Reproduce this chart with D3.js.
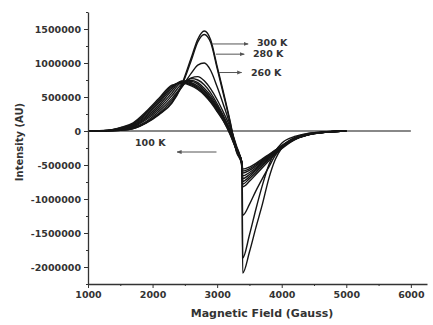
<!DOCTYPE html>
<html>
<head>
<meta charset="utf-8">
<script src="https://cdnjs.cloudflare.com/ajax/libs/d3/7.8.5/d3.min.js"></script>
<style>
  body { margin: 0; background: #fff; }
  text { font-family: "DejaVu Sans", sans-serif; font-weight: bold; fill: #333; }
</style>
</head>
<body>
<div id="chart"></div>
<script>
// magnetic field (Gauss) sample points shared by every spectrum
var fields = [1000, 1300, 1500, 1700, 1900, 2100, 2300, 2450, 2600, 2700, 2800, 2900, 3000, 3100,
  3200, 3300, 3385, 3395, 3500, 3600, 3700, 3800, 3900, 4000, 4200, 4400, 4700, 5000];

// intensity in thousands of AU
var temps = ["300 K", "280 K", "260 K", "240 K", "220 K", "200 K", "180 K", "160 K", "140 K", "120 K", "100 K"];
var i300 = [0, 2, 10, 35, 120, 250, 420, 680, 1080, 1350, 1470, 1340, 950, 560, 150, -300, -480, -2090, -1780, -1420, -1080, -700, -420, -250, -110, -50, -15, 0];
var i280 = [0, 2, 10, 35, 115, 240, 410, 660, 1040, 1310, 1420, 1300, 920, 530, 130, -310, -500, -1870, -1530, -1150, -800, -500, -300, -180, -80, -35, -10, 0];
var i260 = [0, 3, 12, 40, 125, 260, 450, 640, 850, 970, 1000, 890, 650, 380, 90, -250, -540, -1240, -1080, -880, -700, -530, -360, -230, -95, -40, -10, 0];
var i240 = [0, 3, 15, 50, 140, 290, 480, 650, 780, 800, 740, 620, 460, 270, 60, -220, -500, -820, -740, -640, -540, -440, -340, -260, -130, -60, -15, 0];
var i220 = [0, 4, 20, 60, 165, 320, 520, 690, 770, 750, 680, 560, 400, 220, 20, -240, -490, -780, -700, -610, -510, -420, -330, -250, -125, -55, -15, 0];
var i200 = [0, 5, 25, 70, 185, 350, 560, 720, 745, 710, 630, 520, 370, 200, 0, -250, -480, -740, -670, -580, -490, -400, -320, -240, -120, -55, -15, 0];
var i180 = [0, 6, 30, 80, 205, 380, 600, 735, 730, 690, 600, 490, 350, 180, -10, -260, -480, -700, -640, -560, -470, -390, -310, -235, -120, -55, -15, 0];
var i160 = [0, 7, 35, 90, 225, 410, 630, 730, 710, 660, 580, 470, 330, 170, -20, -270, -470, -660, -610, -540, -455, -375, -300, -230, -120, -55, -15, 0];
var i140 = [0, 8, 40, 100, 245, 435, 650, 720, 695, 640, 560, 450, 315, 160, -30, -275, -465, -620, -580, -515, -440, -365, -290, -225, -115, -55, -15, 0];
var i120 = [0, 9, 45, 110, 265, 460, 665, 710, 680, 625, 545, 435, 300, 150, -40, -280, -460, -590, -555, -495, -425, -355, -285, -220, -115, -55, -15, 0];
var i100 = [0, 10, 50, 120, 285, 480, 675, 700, 665, 610, 530, 420, 285, 140, -50, -285, -455, -560, -530, -475, -410, -345, -280, -215, -110, -55, -15, 0];

var xTicks = [1000, 2000, 3000, 4000, 5000, 6000];
var xMinor = [1500, 2500, 3500, 4500, 5500];
var yTicks = [1500, 1000, 500, 0, -500, -1000, -1500, -2000];
var yTickLabels = ["1500000", "1000000", "500000", "0", "-500000", "-1000000", "-1500000", "-2000000"];
var yMinor = [1750, 1250, 750, 250, -250, -750, -1250, -1750, -2250];

var series = [i300, i280, i260, i240, i220, i200, i180, i160, i140, i120, i100].map(function(vals, k) {
  return { temp: temps[k], points: vals.map(function(v, j) { return [fields[j], v]; }) };
});

var width = 433, height = 325;

var x = d3.scaleLinear().domain([1000, 6250]).range([88, 427]);
var y = d3.scaleLinear().domain([-2250, 1750]).range([284, 12]);

var svg = d3.select("#chart").append("svg")
  .attr("width", width)
  .attr("height", height);

var defs = svg.append("defs");
defs.append("marker")
  .attr("id", "arrow")
  .attr("viewBox", "0 0 10 10")
  .attr("refX", 9).attr("refY", 5)
  .attr("markerWidth", 5).attr("markerHeight", 5)
  .attr("orient", "auto")
  .append("path")
  .attr("d", "M0,1L10,5L0,9Z")
  .style("fill", "#555");

// zero baseline
svg.append("line")
  .attr("x1", x(1000)).attr("x2", x(6000))
  .attr("y1", y(0)).attr("y2", y(0))
  .style("stroke", "#888")
  .style("stroke-width", 2);

var line = d3.line()
  .x(function(d) { return x(d[0]); })
  .y(function(d) { return y(d[1]); })
  .curve(d3.curveMonotoneX);

svg.selectAll(".spectrum")
  .data(series)
  .join("path")
  .attr("class", "spectrum")
  .attr("d", function(d) { return line(d.points); })
  .style("fill", "none")
  .style("stroke", "#151515")
  .style("stroke-width", 1.4);

// axes
var xAxis = svg.append("g")
  .attr("transform", "translate(0," + y.range()[0] + ")")
  .call(d3.axisBottom(x).tickValues(xTicks).tickFormat(d3.format("d")).tickSize(4).tickSizeOuter(0));
svg.append("g")
  .attr("transform", "translate(0," + y.range()[0] + ")")
  .call(d3.axisBottom(x).tickValues(xMinor).tickFormat("").tickSize(2).tickSizeOuter(0))
  .select(".domain").remove();

var yAxis = svg.append("g")
  .attr("transform", "translate(" + x.range()[0] + ",0)")
  .call(d3.axisLeft(y).tickValues(yTicks).tickFormat(function(d, i) { return yTickLabels[i]; }).tickSize(4).tickSizeOuter(0));
svg.append("g")
  .attr("transform", "translate(" + x.range()[0] + ",0)")
  .call(d3.axisLeft(y).tickValues(yMinor).tickFormat("").tickSize(2).tickSizeOuter(0))
  .select(".domain").remove();

svg.selectAll(".domain").style("stroke", "#333").style("stroke-width", 1.3);
svg.selectAll(".tick line").style("stroke", "#333").style("stroke-width", 1);
svg.selectAll(".tick text")
  .style("font-family", "DejaVu Sans, sans-serif")
  .style("font-weight", "bold")
  .style("font-size", "9.5px")
  .style("fill", "#333");

svg.append("text")
  .attr("x", 262)
  .attr("y", 317)
  .attr("text-anchor", "middle")
  .style("font-size", "11px")
  .text("Magnetic Field (Gauss)");

svg.append("text")
  .attr("transform", "translate(23,142) rotate(-90)")
  .attr("text-anchor", "middle")
  .style("font-size", "10px")
  .text("Intensity (AU)");

// temperature annotations: [label, arrow start field, arrow end field, arrow intensity, text field, text intensity]
var notes = [
  ["300 K", 2920, 3480, 1280, 3616, 1294],
  ["280 K", 2980, 3420, 1130, 3554, 1132],
  ["260 K", 3030, 3380, 860, 3523, 853],
  ["100 K", 2990, 2380, -309, 1728, -176]
];

svg.selectAll(".note-arrow")
  .data(notes)
  .join("line")
  .attr("class", "note-arrow")
  .attr("x1", function(d) { return x(d[1]); })
  .attr("x2", function(d) { return x(d[2]); })
  .attr("y1", function(d) { return y(d[3]); })
  .attr("y2", function(d) { return y(d[3]); })
  .attr("marker-end", "url(#arrow)")
  .style("stroke", "#555")
  .style("stroke-width", 1);

svg.selectAll(".note-label")
  .data(notes)
  .join("text")
  .attr("class", "note-label")
  .attr("x", function(d) { return x(d[4]); })
  .attr("y", function(d) { return y(d[5]); })
  .attr("dy", "0.35em")
  .style("font-size", "9.5px")
  .text(function(d) { return d[0]; });
</script>
</body>
</html>
